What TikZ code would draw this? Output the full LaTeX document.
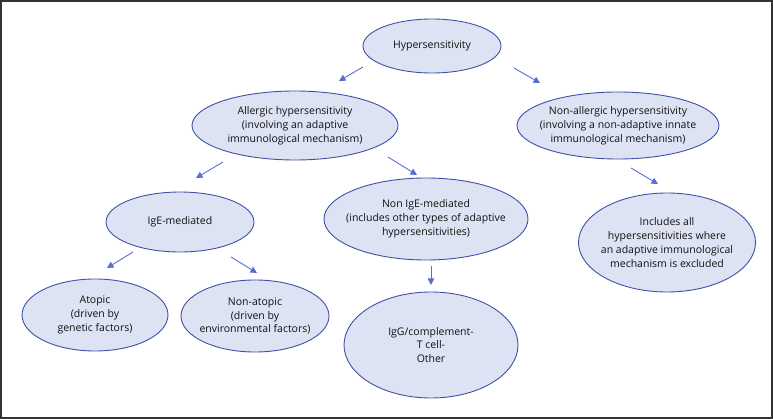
\documentclass[tikz,border=0pt]{standalone}
\usepackage{fontspec}
\setmainfont{Open Sans}
\usetikzlibrary{arrows.meta,shapes.geometric}
\definecolor{ellfill}{HTML}{DEE3F3}
\definecolor{elldraw}{HTML}{4050A8}
\definecolor{arrcol}{HTML}{5A6ED2}
\definecolor{framecol}{HTML}{333333}
\definecolor{txtcol}{HTML}{111111}
\tikzset{
  ell/.style={ellipse, draw=elldraw, fill=ellfill, line width=0.9pt, inner sep=0pt},
  lbl/.style={align=center, inner sep=0pt, text=txtcol, font=\fontsize{10.5}{13.8}\selectfont},
  arr/.style={draw=arrcol, line width=0.9pt, -{Triangle[length=6.5pt,width=6.5pt]}}
}
\begin{document}
\begin{tikzpicture}[x=1pt,y=-1pt]
\useasboundingbox (0,0) rectangle (773,419);
\draw[framecol, line width=1.6pt] (0.8,0.8) rectangle (772.2,418.2);
\node[ell, minimum width=138pt, minimum height=54pt] (hyp) at (432,46) {};
\node[lbl] (hypt) at (hyp) {Hypersensitivity};
\node[ell, minimum width=206pt, minimum height=69pt] (all) at (295,125.5) {};
\node[lbl] (allt) at (all) {Allergic hypersensitivity\\(involving an adaptive\\immunological mechanism)};
\node[ell, minimum width=202pt, minimum height=67pt] (nal) at (618,125.5) {};
\node[lbl] (nalt) at (nal) {Non-allergic hypersensitivity\\(involving a non-adaptive innate\\immunological mechanism)};
\node[ell, minimum width=148pt, minimum height=60pt] (ige) at (180,222) {};
\node[lbl] (iget) at (ige) {IgE-mediated};
\node[ell, minimum width=146pt, minimum height=72pt] (ato) at (95,315) {};
\node[lbl] (atot) at (ato) {Atopic\\(driven by\\genetic factors)};
\node[ell, minimum width=148pt, minimum height=72pt] (nat) at (255,316) {};
\node[lbl] (natt) at (nat) {Non-atopic\\(driven by\\environmental factors)};
\node[ell, minimum width=204pt, minimum height=82pt] (nige) at (426,219) {};
\node[lbl] (niget) at (nige) {Non IgE-mediated\\(includes other types of adaptive\\hypersensitivities)};
\node[ell, minimum width=174pt, minimum height=106pt] (igg) at (431,345) {};
\node[lbl] (iggt) at (igg) {IgG/complement-\\T cell-\\Other};
\node[ell, minimum width=177pt, minimum height=99pt] (inc) at (667,242.5) {};
\node[lbl] (inct) at (inc) {Includes all\\hypersensitivities where\\an adaptive immunological\\mechanism is excluded};
\coordinate (a1s) at (363,67); \coordinate (a1e) at (339,81);
\coordinate (a2s) at (514,68); \coordinate (a2e) at (540,83);
\coordinate (a3s) at (223,162); \coordinate (a3e) at (196,178);
\coordinate (a4s) at (388,157); \coordinate (a4e) at (417,175);
\coordinate (a5s) at (133,252); \coordinate (a5e) at (107,268);
\coordinate (a6s) at (231,257); \coordinate (a6e) at (257,273);
\coordinate (a7s) at (431,266); \coordinate (a7e) at (431,285);
\coordinate (a8s) at (631,168); \coordinate (a8e) at (658,184);
\draw[arr] (a1s) -- (a1e);
\draw[arr] (a2s) -- (a2e);
\draw[arr] (a3s) -- (a3e);
\draw[arr] (a4s) -- (a4e);
\draw[arr] (a5s) -- (a5e);
\draw[arr] (a6s) -- (a6e);
\draw[arr] (a7s) -- (a7e);
\draw[arr] (a8s) -- (a8e);
\end{tikzpicture}
\end{document}
